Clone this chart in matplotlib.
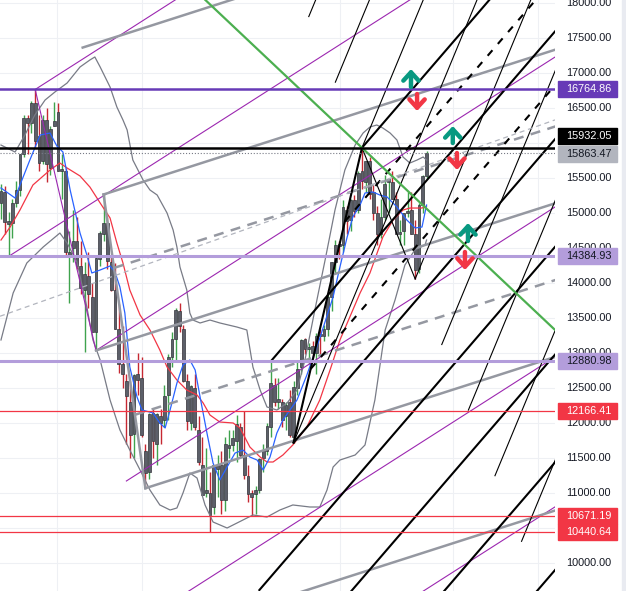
""" Grafico semanal NDX con horquillas """

# * Importar librerias a utilizar
import matplotlib
matplotlib.use('Agg')
import matplotlib.pyplot as plt
from matplotlib.patches import Rectangle
import numpy as np

plt.rcParams['font.family'] = ['Liberation Sans', 'DejaVu Sans']


# * Velas semanales (semana 0 = 20 sep 2021)
opens = [
    15150, 15300, 14850, 14860, 15150, 15330, 15850, 16360, 16290, 16570,
    16100, 15750, 16330, 15650, 16250, 16450, 15600, 15600, 14400, 14500,
    14600, 14250, 13900, 14100, 13800, 13300, 14350, 14700, 14860, 14300,
    13900, 13350, 12850, 12600, 12300, 11850, 12700, 12650, 11600, 11300,
    12150, 11700, 12100, 12050, 12400, 12950, 13200, 13600, 13350, 12600,
    12000, 12500, 11900, 11400, 11000, 11000, 10800, 11350, 11400, 10900,
    11650, 11680, 11750, 11950, 11550, 11250, 11000, 10990, 11050, 11500,
    11600, 11950, 12550, 12300, 12300, 12100, 12300, 11800, 12500, 12800,
    13200, 13060, 13100, 13000, 13250, 13250, 13340, 13800, 14300, 14550,
    14550, 15050, 14900, 15180, 15050, 15600, 15450, 15750, 15300, 15000,
    14700, 14950, 15450, 15450, 15200, 14700, 14750, 15000, 15050, 14700,
    14200, 15120, 15530]
highs = [
    15420, 15380, 15020, 15200, 15460, 15850, 16400, 16400, 16600, 16765,
    16400, 16400, 16500, 16250, 16580, 16575, 15850, 15650, 14750, 15050,
    14950, 14600, 14300, 14450, 14000, 14400, 14750, 15265, 14950, 14400,
    14280, 13700, 13380, 12700, 12600, 12700, 13000, 12950, 11700, 12150,
    12200, 12150, 12200, 12550, 12990, 13300, 13640, 13720, 13400, 12700,
    12550, 12700, 12100, 11800, 11650, 11300, 11400, 11550, 11600, 11800,
    11900, 11900, 12120, 12000, 12166, 11400, 11050, 11100, 11500, 11700,
    12000, 12881, 12650, 12650, 12350, 12300, 12470, 12600, 12900, 13200,
    13220, 13150, 13170, 13280, 13350, 13400, 13830, 14300, 14620, 14600,
    15180, 15100, 15200, 15260, 15600, 15932, 15750, 15800, 15400, 15100,
    15200, 15550, 15500, 15600, 15300, 14900, 15000, 15300, 15300, 14900,
    15150, 15550, 15880]
lows = [
    14920, 14700, 14400, 14650, 15080, 15250, 15800, 15850, 16150, 15950,
    15600, 15700, 15450, 15550, 16250, 15600, 15200, 14400, 13720, 14300,
    14200, 13850, 13020, 13650, 13300, 13036, 14250, 14600, 14200, 13880,
    13350, 12720, 12500, 11700, 11500, 11500, 12400, 11800, 11068, 11200,
    11500, 11400, 11700, 11950, 12050, 12800, 12900, 13300, 12580, 11900,
    11900, 11900, 11400, 10970, 10950, 10440, 10700, 10950, 10700, 10750,
    11500, 11600, 11450, 11500, 11200, 10870, 10671, 10700, 11000, 11300,
    11550, 11800, 12240, 12200, 11950, 11900, 11800, 11720, 12400, 12700,
    12980, 12850, 12950, 12700, 12960, 13170, 13240, 13600, 14150, 14350,
    14450, 14700, 14750, 14950, 15000, 15350, 15300, 15200, 14900, 14550,
    14650, 14900, 15000, 15200, 14700, 14550, 14550, 14950, 14700, 14058,
    14150, 15000, 15500]
closes = [
    15310, 14870, 14860, 15150, 15330, 15850, 16360, 16290, 16570, 16030,
    15710, 16330, 15700, 16200, 16320, 15600, 15610, 14440, 14440, 14600,
    14250, 13930, 14130, 13840, 13300, 14360, 14710, 14860, 14310, 13900,
    13350, 12850, 12700, 12390, 11830, 12680, 12620, 11830, 11280, 12130,
    11750, 12125, 12000, 12390, 12950, 13200, 13620, 13390, 12600, 12030,
    12530, 11950, 11450, 10970, 11040, 10690, 11400, 11400, 10900, 11700,
    11670, 11780, 11990, 11550, 11260, 10990, 10940, 11040, 11480, 11620,
    11960, 12570, 12300, 12350, 12050, 12260, 11830, 12520, 12770, 13180,
    13060, 13080, 13000, 13250, 13240, 13340, 13800, 14300, 14550, 14530,
    15080, 14890, 15180, 15030, 15570, 15460, 15750, 15270, 15000, 14700,
    14940, 15420, 15460, 15200, 14700, 14720, 15000, 15000, 14700, 14180,
    15120, 15530, 15863.47]


# * Medias moviles y bandas
azul_x = [0, 3.7, 5.0, 7.6, 10.3, 12.9, 14.7, 16.3, 18.2, 20.8, 22.6, 23.9, 26.1, 28.7, 30.0,
          31.3, 32.6, 33.9, 35.8, 37.1, 40.0, 41.8, 43.2, 44.5, 46.3, 47.9, 49.7, 51.1, 52.4, 54.2,
          55.8, 57.6, 59.5, 61.6, 63.7, 65.5, 67.4, 69.0, 70.8, 72.6, 74.2, 77.9, 80.5, 84.0, 87.4,
          89.2, 91.1, 92.6, 94.5, 95.8, 97.9, 99.7, 101.6, 104.2, 106.8, 109.0, 110.8, 112.0]
azul_y = [15357, 15214, 15400, 15757, 16114, 16143, 15957, 15871, 15329, 14714, 14400, 14143, 14186, 14243, 14157,
          13943, 13571, 12800, 12371, 12186, 12143, 12000, 11929, 12186, 12571, 12829, 12900, 12757, 12371, 11857,
          11429, 11186, 11371, 11571, 11614, 11514, 11471, 11329, 11514, 11857, 12043, 12329, 12686, 13229, 13800,
          14229, 14657, 14943, 15114, 15286, 15300, 15257, 15229, 15086, 14900, 14786, 14800, 15114]

rojo_x = [0, 2.4, 5.0, 8.4, 12.9, 15.5, 17.4, 20.8, 23.4, 26.1, 28.7, 30.5, 32.1, 33.9, 36.6,
          39.2, 41.8, 43.7, 46.3, 48.9, 51.6, 53.2, 55.0, 57.6, 61.1, 62.9, 65.5, 68.2, 70.0, 71.6,
          74.2, 76.8, 80.5, 83.9, 86.6, 89.2, 91.8, 94.5, 97.1, 100.5, 103.2, 105.8, 107.6, 110.8, 112.0]
rojo_y = [14614, 14800, 15043, 15400, 15614, 15714, 15643, 15529, 15371, 15143, 14929, 14571, 14286, 13900, 13543,
          13329, 13043, 12800, 12614, 12471, 12400, 12286, 12114, 12014, 12000, 11929, 11657, 11514, 11443, 11443,
          11543, 11686, 11943, 12329, 12757, 13186, 13514, 13857, 14143, 14657, 14900, 15043, 15071, 15071, 15100]

banda_sup_x = [0, 3.7, 6.3, 8.9, 11.6, 14.2, 17.4, 20.8, 23.4, 24.7, 26.1, 28.7, 30.5, 32.1, 33.2,
               34.7, 37.4, 39.2, 41.1, 43.7, 45.3, 46.3, 47.1, 48.9, 49.7, 50.5, 52.4, 55.0, 57.6, 62.1,
               64.7, 66.3, 68.2, 70.0, 72.6, 75.3, 77.9, 80.0, 82.6, 85.3, 87.9, 90.5, 93.2, 95.3, 97.1,
               98.9, 100.5, 102.4, 104.2, 105.8, 107.6, 109.5, 111.1, 112.0]
banda_sup_y = [15971, 15871, 16114, 16400, 16614, 16729, 16857, 17086, 17186, 17229, 17086, 16800, 16514, 16329, 16186,
               15757, 15471, 15329, 15257, 15000, 14757, 14514, 14229, 13900, 13571, 13471, 13429, 13471, 13429, 13371,
               13329, 12800, 12471, 12229, 12186, 12286, 12471, 12900, 13614, 14329, 15043, 15614, 15971, 16143, 16229,
               16257, 16214, 16143, 16043, 15800, 15714, 15757, 15800, 15757]

banda_inf_x = [0, 3.2, 6.8, 11.1, 15.5, 17.4, 20.0, 22.6, 24.2, 26.1, 28.7, 31.3, 33.9, 36.6, 39.2,
               41.8, 44.5, 46.3, 47.9, 49.7, 51.6, 53.7, 55.8, 59.5, 62.1, 66.3, 70.0, 73.4, 76.8, 81.3,
               83.9, 85.8, 87.4, 89.2, 93.2, 95.8, 98.4, 101.1, 103.7, 106.3, 108.9, 111.6, 112.0]
banda_inf_y = [13186, 13857, 14286, 14514, 14714, 14571, 14300, 13657, 13186, 12900, 12329, 11900, 11614, 11329, 11043,
               10829, 10757, 10786, 11000, 11286, 11214, 10829, 10586, 10500, 10571, 10686, 10657, 10757, 10829, 10800,
               10800, 11043, 11371, 11471, 11543, 11686, 12329, 13329, 13757, 14257, 14471, 14543, 14614]


# * Niveles horizontales y etiquetas de precio
niveles = [16764.86, 15932.05, 15863.47, 14384.93, 12880.98, 12166.41, 10671.19, 10440.64]
ticks_precio = list(range(10000, 18001, 500))

# * Puntos de las horquillas (semana, precio)
horquilla_morada = [(2, 14380), (9, 16765), (25, 13036)]
horquilla_gris = [(25, 13036), (27, 15265), (38, 11068)]
horquilla_negra = [(71, 12880.98), (77, 11720), (95, 15932.05)]
horquilla_fina = [(77, 11720), (95, 15932.05), (109, 14058)]

# * Otras lineas
linea_verde = [(95, 15932.05), (145.8, 13330)]
linea_punteada = [(0, 13530), (145.8, 16330)]

# * Flechas (semana, desde, hasta)
flecha_x = [107.9, 109.5, 118.9, 120.0, 122.9, 122.1]
flecha_desde = [16800, 16700, 16000, 15857, 14600, 14443]
flecha_hasta = [17057, 16457, 16243, 15614, 14857, 14186]

rejilla_x = [14.7, 37.1, 89.2, 119.0, 141.3]


# * Figura
X_MIN, X_MAX = -0.26, 145.8
Y_MIN, Y_MAX = 9600, 18043
X_FIN = 150
PX = (Y_MAX - Y_MIN) / 591  # precio por pixel

fig = plt.figure(figsize=(6.26, 5.91), dpi=100)
fig.patch.set_facecolor('white')
ax = fig.add_axes([0, 0, 555 / 626, 1])
ax_precio = fig.add_axes([555 / 626, 0, 71 / 626, 1])

ax.set_xlim(X_MIN, X_MAX)
ax.set_ylim(Y_MIN, Y_MAX)
ax.axis('off')
ax_precio.set_xlim(0, 71)
ax_precio.set_ylim(Y_MIN, Y_MAX)
ax_precio.axis('off')

# rejilla
for p in ticks_precio:
    ax.axhline(p, color='#eef0f4', lw=0.8, zorder=0)
for xg in rejilla_x:
    ax.axvline(xg, color='#eef0f4', lw=0.8, zorder=0)


# * Velas
idx = np.arange(len(closes))
o, h, l, c = map(np.array, (opens, highs, lows, closes))
sube = c >= o
ax.vlines(idx, l, h, colors=np.where(sube, '#3fa34d', '#c62832'), lw=1.0, zorder=2)
ax.bar(idx, np.maximum(np.abs(c - o), 30), bottom=np.minimum(o, c), width=0.74,
       color='#5c5f69', edgecolor='#33353c', linewidth=0.5, zorder=2.1)


# * Indicadores
ax.plot(banda_sup_x, banda_sup_y, color='#787b86', lw=0.9, zorder=3)
ax.plot(banda_inf_x, banda_inf_y, color='#787b86', lw=0.9, zorder=3)
ax.plot(rojo_x, rojo_y, color='#f23645', lw=0.9, zorder=3)
ax.plot(azul_x, azul_y, color='#2962ff', lw=0.9, zorder=3)


# * Horquillas
def horquilla(puntos, lista_niveles, mango):
    p1, p2, p3 = (np.array(p, dtype=float) for p in puntos)
    medio = (p2 + p3) / 2
    pend = (medio[1] - p1[1]) / (medio[0] - p1[0])
    v = p3 - medio
    for k, estilo in lista_niveles:
        ini = p1 if k == 0 else medio + k * v
        ax.plot([ini[0], X_FIN], [ini[1], ini[1] + pend * (X_FIN - ini[0])], zorder=4, **estilo)
    ax.plot([p2[0], p3[0]], [p2[1], p3[1]], zorder=4, **mango)


morado = dict(color='#9c27b0', lw=0.8)
horquilla(horquilla_morada, [(k, morado) for k in (-1, 0, 1, 2, 3, 4)], morado)

gris = dict(color='#9598a1', lw=1.8)
gris_d = dict(color='#9598a1', lw=1.8, dashes=(4, 3))
horquilla(horquilla_gris, [(-2, gris), (-1, gris), (-0.5, gris_d), (0, gris),
                           (0.5, gris_d), (1, gris), (2, gris)], gris)

negro = dict(color='black', lw=1.5)
negro_d = dict(color='black', lw=1.5, dashes=(3.5, 4))
horquilla(horquilla_negra, [(1, negro), (0.5, negro_d), (0, negro), (-0.5, negro_d), (-1, negro),
                            (-2, negro), (-3, negro), (-4, negro), (-5, negro)], negro)

fino = dict(color='black', lw=0.8)
horquilla(horquilla_fina, [(k, fino) for k in (-3, -2, -1, 0, 1, 2, 3, 4, 5)], fino)

ax.axline(linea_verde[0], linea_verde[1], color='#4caf50', lw=1.6, zorder=4)
ax.axline(linea_punteada[0], linea_punteada[1], color='#b2b5be', lw=0.9, dashes=(4, 3), zorder=4)


# * Lineas horizontales
estilos = [('#673ab7', 1.8, '-'), ('black', 1.8, '-'), ('#787b86', 0.8, ':'), ('#b39ddb', 2.2, '-'),
           ('#b39ddb', 2.2, '-'), ('#f23645', 0.9, '-'), ('#f23645', 0.9, '-'), ('#f23645', 0.9, '-')]
for p, (col, ancho, ls) in zip(niveles, estilos):
    ax.axhline(p, color=col, lw=ancho, ls=ls, zorder=4.5)


# * Flechas
for xi, y0, y1 in zip(flecha_x, flecha_desde, flecha_hasta):
    col = '#089981' if y1 > y0 else '#f23645'
    ax.annotate('', xy=(xi, y1), xytext=(xi, y0), zorder=6,
                arrowprops=dict(arrowstyle='->,head_length=0.6,head_width=0.55', lw=3.2, color=col,
                                shrinkA=0, shrinkB=0, mutation_scale=10))


# * Escala de precios
fondos = ['#673ab7', 'black', '#b2b5be', '#b39ddb', '#b39ddb', '#f23645', '#f23645', '#f23645']
letras = ['white', 'white', '#131722', '#131722', '#131722', 'white', 'white', 'white']
desplaz = [0, 12, -1.5, 0, 0, 0, 0, 0]
centros = [p + d * PX for p, d in zip(niveles, desplaz)]

# las marcas tapadas del todo por una etiqueta no se ven en el original
for p in ticks_precio:
    if min(abs(p - yc) for yc in centros) <= 7.5 * PX:
        continue
    ax_precio.text(11.5, p, f'{p:.2f}', va='center', ha='left', fontsize=7.8, color='#131722', zorder=1)

for p, yc, fondo, letra in zip(niveles, centros, fondos, letras):
    ax_precio.add_patch(Rectangle((3, yc - 8 * PX), 59, 16 * PX, color=fondo, zorder=3))
    ax_precio.text(11.5, yc, f'{p:.2f}', va='center', ha='left', fontsize=7.8, color=letra, zorder=4)

ax_precio.add_patch(Rectangle((67, Y_MIN), 4, Y_MAX - Y_MIN, color='#e9ebf1', zorder=0))

plt.savefig('out.png', dpi=100)
